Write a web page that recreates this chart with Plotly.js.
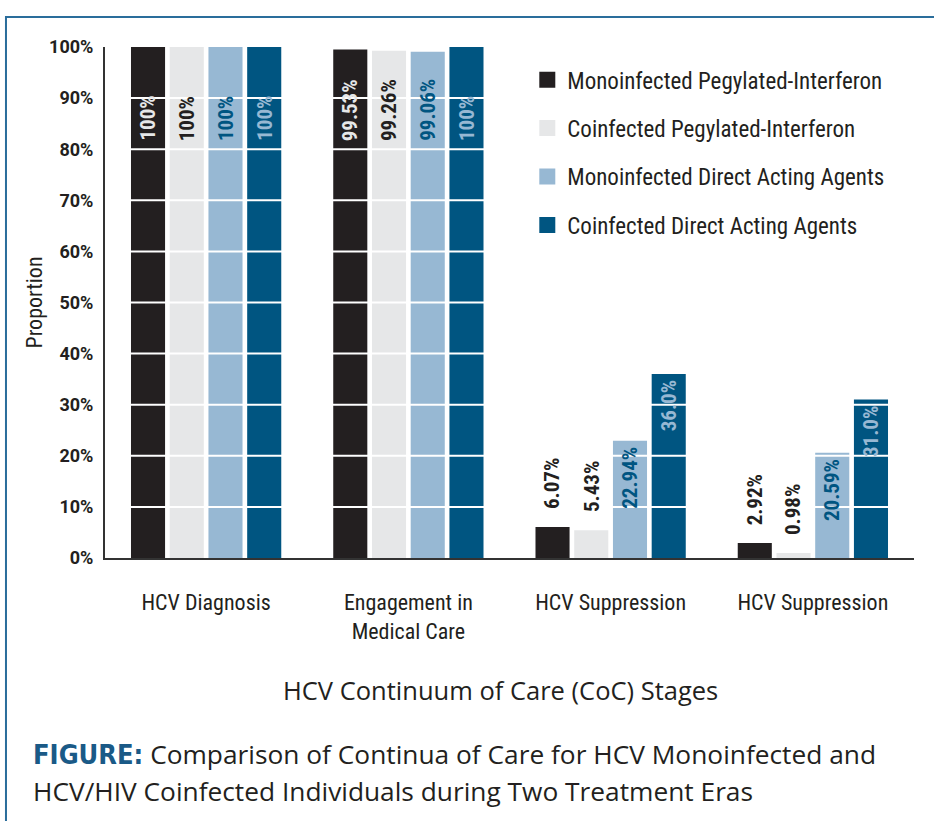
<!DOCTYPE html>
<html>
<head>
<meta charset="utf-8">
<script src="https://cdn.plot.ly/plotly-3.0.1.min.js"></script>
<style>
html,body{margin:0;padding:0;background:#fff;}
#chart{width:934px;height:821px;}
</style>
</head>
<body>
<div id="chart"></div>
<script>
// ---- data ----
const categories = ['HCV Diagnosis', 'Engagement in<br>Medical Care', 'HCV Suppression', 'HCV Suppression'];
const seriesNames = ['Monoinfected Pegylated-Interferon', 'Coinfected Pegylated-Interferon',
                     'Monoinfected Direct Acting Agents', 'Coinfected Direct Acting Agents'];
const monoPeg = [100, 99.53, 6.07, 2.92];
const coPeg   = [100, 99.26, 5.43, 0.98];
const monoDAA = [100, 99.06, 22.94, 20.59];
const coDAA   = [100, 100, 36.0, 31.0];
const monoPegLabels = ['100%', '99.53%', '6.07%', '2.92%'];
const coPegLabels   = ['100%', '99.26%', '5.43%', '0.98%'];
const monoDAALabels = ['100%', '99.06%', '22.94%', '20.59%'];
const coDAALabels   = ['100%', '100%', '36.0%', '31.0%'];
const yTickVals = [0, 10, 20, 30, 40, 50, 60, 70, 80, 90, 100];
const yTickText = ['0%', '10%', '20%', '30%', '40%', '50%', '60%', '70%', '80%', '90%', '100%'];
const xTitle = 'HCV Continuum of Care (CoC) Stages';
const yTitle = 'Proportion';
const captionLabel = 'FIGURE:';
const captionLine1 = 'Comparison of Continua of Care for HCV Monoinfected and';
const captionLine2 = 'HCV/HIV Coinfected Individuals during Two Treatment Eras';

// ---- style ----
const barColors = ['#231f20', '#e6e7e8', '#97b8d3', '#005581'];
const insideLabelColors = ['#e6e7e8', '#231f20', '#005581', '#97b8d3'];
const outsideLabelColor = '#231f20';
const condensed = '"Liberation Sans Narrow", "Roboto Condensed", "DejaVu Sans Condensed", Roboto, sans-serif';
const regular = '"Open Sans", Lato, sans-serif';
const bargap = 0.234, bargroupgap = 0.12;
const bigLabelBase = 81.2;   // labels of the near-100% bars sit with their base here

const allValues = [monoPeg, coPeg, monoDAA, coDAA];
const allLabels = [monoPegLabels, coPegLabels, monoDAALabels, coDAALabels];
const xIdx = categories.map((c, i) => i);

const traces = [];
allValues.forEach((vals, s) => {
  traces.push({
    type: 'bar', x: xIdx, y: vals, name: seriesNames[s], showlegend: false,
    marker: {color: barColors[s], line: {width: 0}}, hoverinfo: 'skip'
  });
});
// legend entries (larger square swatches)
allValues.forEach((vals, s) => {
  traces.push({
    type: 'scatter', mode: 'markers', x: [null], y: [null], name: seriesNames[s],
    legendgroup: 'g' + s, showlegend: true,
    marker: {symbol: 'square', size: 18, color: barColors[s]}
  });
});

const annotations = [];
const slot = (1 - bargap) / allValues.length;
allValues.forEach((vals, s) => {
  vals.forEach((v, j) => {
    const xpos = j + (s - (allValues.length - 1) / 2) * slot;
    let a = {x: xpos, y: v, xref: 'x', yref: 'y', text: allLabels[s][j], textangle: -90,
             showarrow: false, xanchor: 'center',
             font: {family: condensed, size: 21, color: insideLabelColors[s], weight: 'bold'}};
    if (v > 90) {
      a.y = bigLabelBase; a.yanchor = 'bottom';
    } else if (v > 15) {
      a.yanchor = 'top'; a.yshift = -4;
    } else {
      a.yanchor = 'bottom'; a.yshift = 16; a.font.color = outsideLabelColor;
    }
    annotations.push(a);
  });
});

// x-axis title
annotations.push({
  xref: 'paper', yref: 'paper', x: 0.489, y: -0.258, xanchor: 'center', yanchor: 'middle',
  showarrow: false, text: xTitle, font: {family: regular, size: 25.5, color: '#231f20'}
});
// caption
annotations.push({
  xref: 'paper', yref: 'paper', x: -0.092, y: -0.344, xanchor: 'left', yanchor: 'top', align: 'left',
  showarrow: false,
  text: '<span style="font-family:' + "'DejaVu Sans Condensed', 'DejaVu Sans'" + ';font-weight:bold;font-size:27px;color:#1a5a87">' + captionLabel + '</span> ' + captionLine1,
  font: {family: regular, size: 26.3, color: '#231f20'}
});
annotations.push({
  xref: 'paper', yref: 'paper', x: -0.092, y: -0.417, xanchor: 'left', yanchor: 'top', align: 'left',
  showarrow: false, text: captionLine2,
  font: {family: regular, size: 26.3, color: '#231f20'}
});

const shapes = [];
yTickVals.filter(v => v > 0 && v < 100).forEach(v => {
  shapes.push({type: 'line', xref: 'paper', yref: 'y', x0: 0, x1: 1, y0: v, y1: v,
               line: {color: '#ffffff', width: 2}, layer: 'above'});
});
// outer frame (top and left edges)
shapes.push({type: 'path', xref: 'paper', yref: 'paper',
             path: 'M -0.1224 -0.53 L -0.1224 1.0587 L 1.03 1.0587',
             line: {color: '#2a6d9b', width: 2}, layer: 'below'});

const layout = {
  width: 934, height: 821,
  margin: {l: 105, r: 20, t: 47, b: 263},
  paper_bgcolor: '#ffffff', plot_bgcolor: '#ffffff',
  barmode: 'group', bargap: bargap, bargroupgap: bargroupgap,
  showlegend: true,
  legend: {x: 0.522, y: 0.978, xanchor: 'left', yanchor: 'top', bgcolor: 'rgba(0,0,0,0)',
           font: {family: condensed, size: 23, color: '#231f20'}, tracegroupgap: 15.5,
           traceorder: 'grouped', itemclick: false},
  xaxis: {
    range: [-0.5, 3.5], tickvals: xIdx, ticktext: categories, showgrid: false, zeroline: false,
    showline: true, linecolor: '#333333', linewidth: 2, ticks: '', ticklabelstandoff: 24,
    tickfont: {family: condensed, size: 22, color: '#231f20'}
  },
  yaxis: {
    range: [0, 100], tickvals: yTickVals, ticktext: yTickText, showgrid: false, zeroline: false,
    showline: true, linecolor: '#333333', linewidth: 2, ticks: '', ticklabelstandoff: 6,
    tickfont: {family: 'Roboto, sans-serif', size: 18, color: '#231f20', weight: 'bold'},
    title: {text: yTitle, standoff: 0,
            font: {family: condensed, size: 22, color: '#231f20'}}
  },
  shapes: shapes,
  annotations: annotations
};

Plotly.newPlot('chart', traces, layout, {displayModeBar: false, staticPlot: true});
</script>
</body>
</html>
